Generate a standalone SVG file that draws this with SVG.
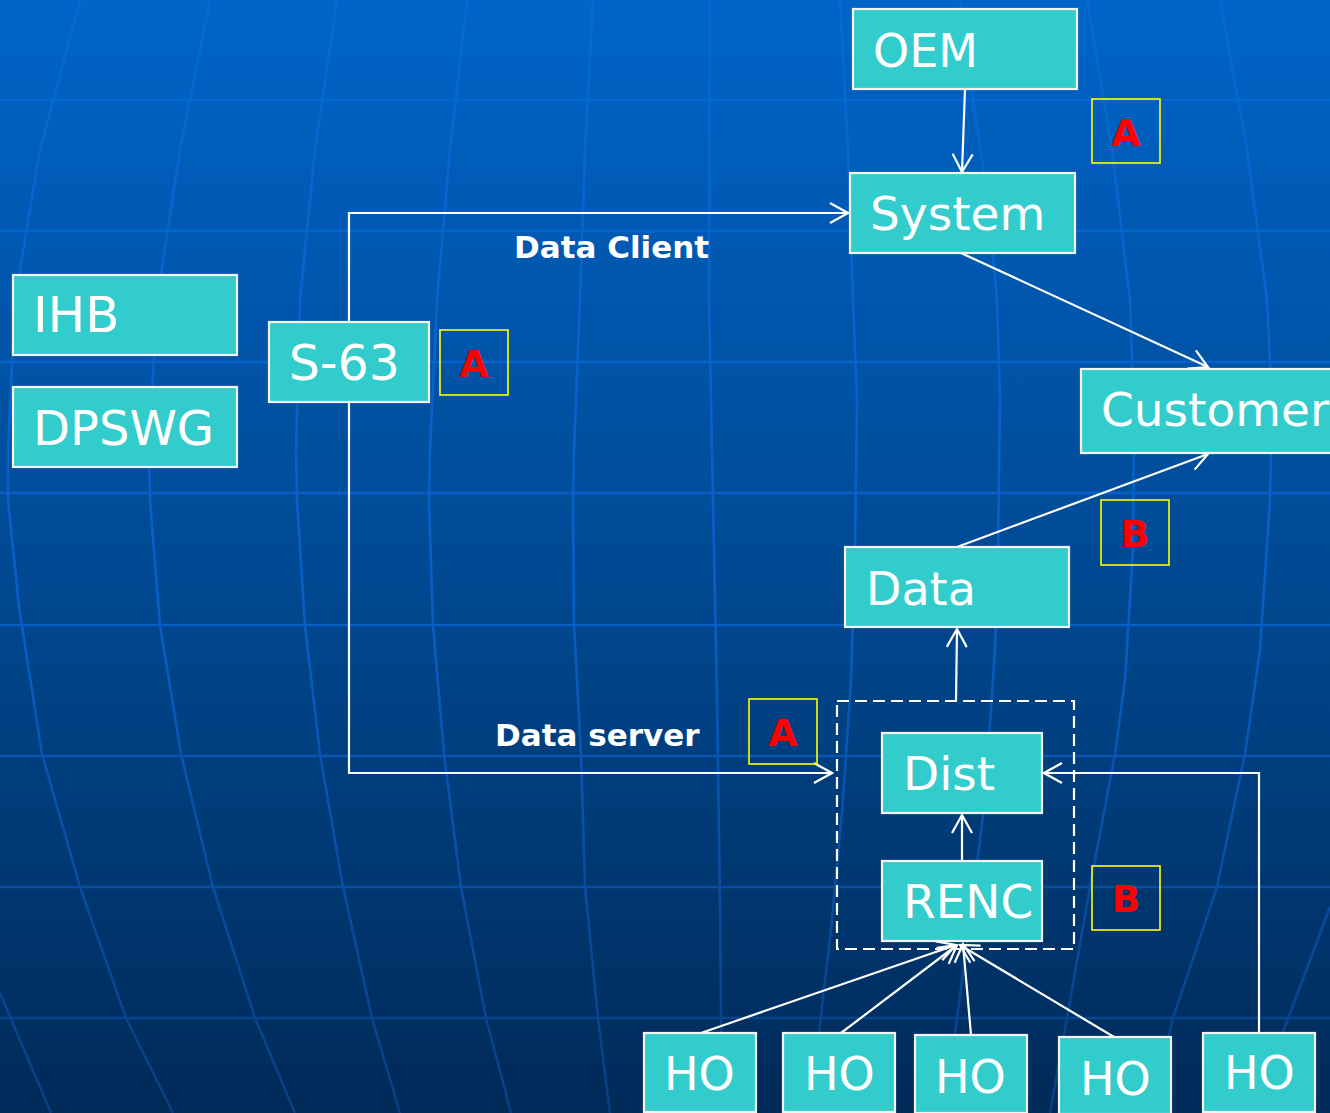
<svg xmlns="http://www.w3.org/2000/svg" width="1330" height="1113" viewBox="0 0 1330 1113">
<defs>
<linearGradient id="bg" x1="0" y1="0" x2="0" y2="1113" gradientUnits="userSpaceOnUse">
<stop offset="0" stop-color="#0064c8"/>
<stop offset="0.45" stop-color="#004d9a"/>
<stop offset="1" stop-color="#002a58"/>
</linearGradient>
<linearGradient id="gl" x1="0" y1="0" x2="0" y2="1113" gradientUnits="userSpaceOnUse">
<stop offset="0" stop-color="#046ad4"/>
<stop offset="0.55" stop-color="#085ec6"/>
<stop offset="1" stop-color="#083f80"/>
</linearGradient>
<marker id="arr" viewBox="0 0 22 24" markerUnits="userSpaceOnUse" markerWidth="22" markerHeight="24" refX="20" refY="12" orient="auto">
<path d="M2,2 L20,12 L2,22" fill="none" stroke="#ffffff" stroke-width="2.2"/>
</marker>
</defs>
<style>
.grid line, .grid polyline { stroke: url(#gl); stroke-width: 2.6; fill: none; stroke-linejoin: round; }
.box { fill: #33cccc; stroke: #f4f4f4; stroke-width: 2.2; }
.lbl { font-family: "DejaVu Sans", Verdana, sans-serif; font-size: 47px; fill: #ffffff; }
.tag { fill: none; stroke: #ffff00; stroke-width: 1.6; }
.tagt { font-family: "DejaVu Sans", Verdana, sans-serif; font-weight: bold; font-size: 38px; fill: #ff0000; text-anchor: middle; }
.edge { fill: none; stroke: #ffffff; stroke-width: 2.2; }
.elbl { font-family: "DejaVu Sans", Verdana, sans-serif; font-weight: bold; font-size: 31px; fill: #ffffff; }
</style>
<rect x="0" y="0" width="1330" height="1113" fill="url(#bg)"/>
<g class="grid">
<line x1="0" y1="100" x2="1330" y2="100"/>
<line x1="0" y1="231" x2="1330" y2="231"/>
<line x1="0" y1="362" x2="1330" y2="362"/>
<line x1="0" y1="493" x2="1330" y2="493"/>
<line x1="0" y1="625" x2="1330" y2="625"/>
<line x1="0" y1="756" x2="1330" y2="756"/>
<line x1="0" y1="887" x2="1330" y2="887"/>
<line x1="0" y1="1018" x2="1330" y2="1018"/>
<polyline points="80,0 72,30 40,150 15,300 8,450 8,500 19,607 42,754 80,887 126,1018 173,1113"/>
<polyline points="210,0 180,150 157,300 149,450 150,500 160,625 181,754 213,887 255,1018 295,1113"/>
<polyline points="337,0 315,150 300,300 296,450 297,500 305,625 320,754 343,887 372,1018 400,1113"/>
<polyline points="467,0 450,150 437,300 430,450 429,500 433,625 444,754 461,887 486,1018 511,1113"/>
<polyline points="593,0 585,150 580,300 574,450 573,500 574,625 581,754 585,887 598,1018 610,1113"/>
<polyline points="710,0 709,300 713,500 717,700 720,900 722,1113"/>
<polyline points="840,0 848,150 853,300 857,400 855,550 851,680 843,800 832,920 819,1033 810,1113"/>
<polyline points="960,0 973,100 988,200 997,300 1000,400 998,550 995,650 985,800 970,920 955,1033 945,1113"/>
<polyline points="1087,0 1112,150 1130,300 1134,420 1133,550 1125,680 1115,754 1090,887 1067,1018 1050,1113"/>
<polyline points="1220,0 1247,150 1267,300 1272,400 1270,500 1260,650 1245,754 1217,887 1173,1018 1150,1113"/>
<polyline points="1330,907 1283,1032 1262,1113"/>
<polyline points="0,993 51,1113"/>
</g>
<g id="connectors">
<path class="edge" d="M965,89 L962,172" marker-end="url(#arr)"/>
<path class="edge" d="M349,322 L349,213 L848,213" marker-end="url(#arr)"/>
<path class="edge" d="M349,403 L349,773 L832,773" marker-end="url(#arr)"/>
<path class="edge" d="M961,253 L1208,367" marker-end="url(#arr)"/>
<path class="edge" d="M957,547 L1208,454" marker-end="url(#arr)"/>
<path class="edge" d="M956,701 L957,629" marker-end="url(#arr)"/>
<path class="edge" d="M962,861 L962,815" marker-end="url(#arr)"/>
<path class="edge" d="M1259,1033 L1259,773 L1044,773" marker-end="url(#arr)"/>
<path class="edge" d="M701,1033 L956,945" marker-end="url(#arr)"/>
<path class="edge" d="M841,1033 L957,945" marker-end="url(#arr)"/>
<path class="edge" d="M971,1035 L963,944" marker-end="url(#arr)"/>
<path class="edge" d="M1114,1037 L960,945" marker-end="url(#arr)"/>
<text class="elbl" x="514" y="258">Data Client</text>
<text class="elbl" x="495" y="746">Data server</text>
</g>
<g id="server-group">
<rect x="837" y="701" width="237" height="248" fill="none" stroke="#ffffff" stroke-width="2.2" stroke-dasharray="12,6"/>
</g>
<g id="OEM"><rect class="box" x="853" y="9" width="224" height="80"/><text class="lbl" x="873" y="67" style="font-size:46px">OEM</text></g>
<g id="System"><rect class="box" x="850" y="173" width="225" height="80"/><text class="lbl" x="870" y="230">System</text></g>
<g id="Customer"><rect class="box" x="1081" y="369" width="262" height="84"/><text class="lbl" x="1101" y="426">Customer</text></g>
<g id="Data"><rect class="box" x="845" y="547" width="224" height="80"/><text class="lbl" x="866" y="605" style="font-size:46px">Data</text></g>
<g id="IHB"><rect class="box" x="13" y="275" width="224" height="80"/><text class="lbl" x="33" y="332" style="font-size:50px">IHB</text></g>
<g id="DPSWG"><rect class="box" x="13" y="387" width="224" height="80"/><text class="lbl" x="33" y="445" style="font-size:48px">DPSWG</text></g>
<g id="S-63"><rect class="box" x="269" y="322" width="160" height="80"/><text class="lbl" x="289" y="380" style="font-size:49px">S-63</text></g>
<g id="Dist"><rect class="box" x="882" y="733" width="160" height="80"/><text class="lbl" x="903" y="790">Dist</text></g>
<g id="RENC"><rect class="box" x="882" y="861" width="160" height="80"/><text class="lbl" x="903" y="918">RENC</text></g>
<g id="HO1"><rect class="box" x="644" y="1033" width="112" height="79"/><text class="lbl" x="664" y="1090" style="font-size:46px">HO</text></g>
<g id="HO2"><rect class="box" x="783" y="1033" width="112" height="79"/><text class="lbl" x="804" y="1090" style="font-size:46px">HO</text></g>
<g id="HO3"><rect class="box" x="915" y="1035" width="112" height="78"/><text class="lbl" x="935" y="1093" style="font-size:46px">HO</text></g>
<g id="HO4"><rect class="box" x="1059" y="1037" width="112" height="77"/><text class="lbl" x="1080" y="1095" style="font-size:46px">HO</text></g>
<g id="HO5"><rect class="box" x="1203" y="1033" width="112" height="79"/><text class="lbl" x="1224" y="1089" style="font-size:46px">HO</text></g>
<g id="tagA1"><rect class="tag" x="1092" y="99" width="68" height="64"/><text class="tagt" x="1126" y="146">A</text></g>
<g id="tagA2"><rect class="tag" x="440" y="330" width="68" height="65"/><text class="tagt" x="474" y="377">A</text></g>
<g id="tagA3"><rect class="tag" x="749" y="699" width="68" height="65"/><text class="tagt" x="783" y="746">A</text></g>
<g id="tagB1"><rect class="tag" x="1101" y="500" width="68" height="65"/><text class="tagt" x="1135" y="547">B</text></g>
<g id="tagB2"><rect class="tag" x="1092" y="866" width="68" height="64"/><text class="tagt" x="1126" y="912">B</text></g>
</svg>
